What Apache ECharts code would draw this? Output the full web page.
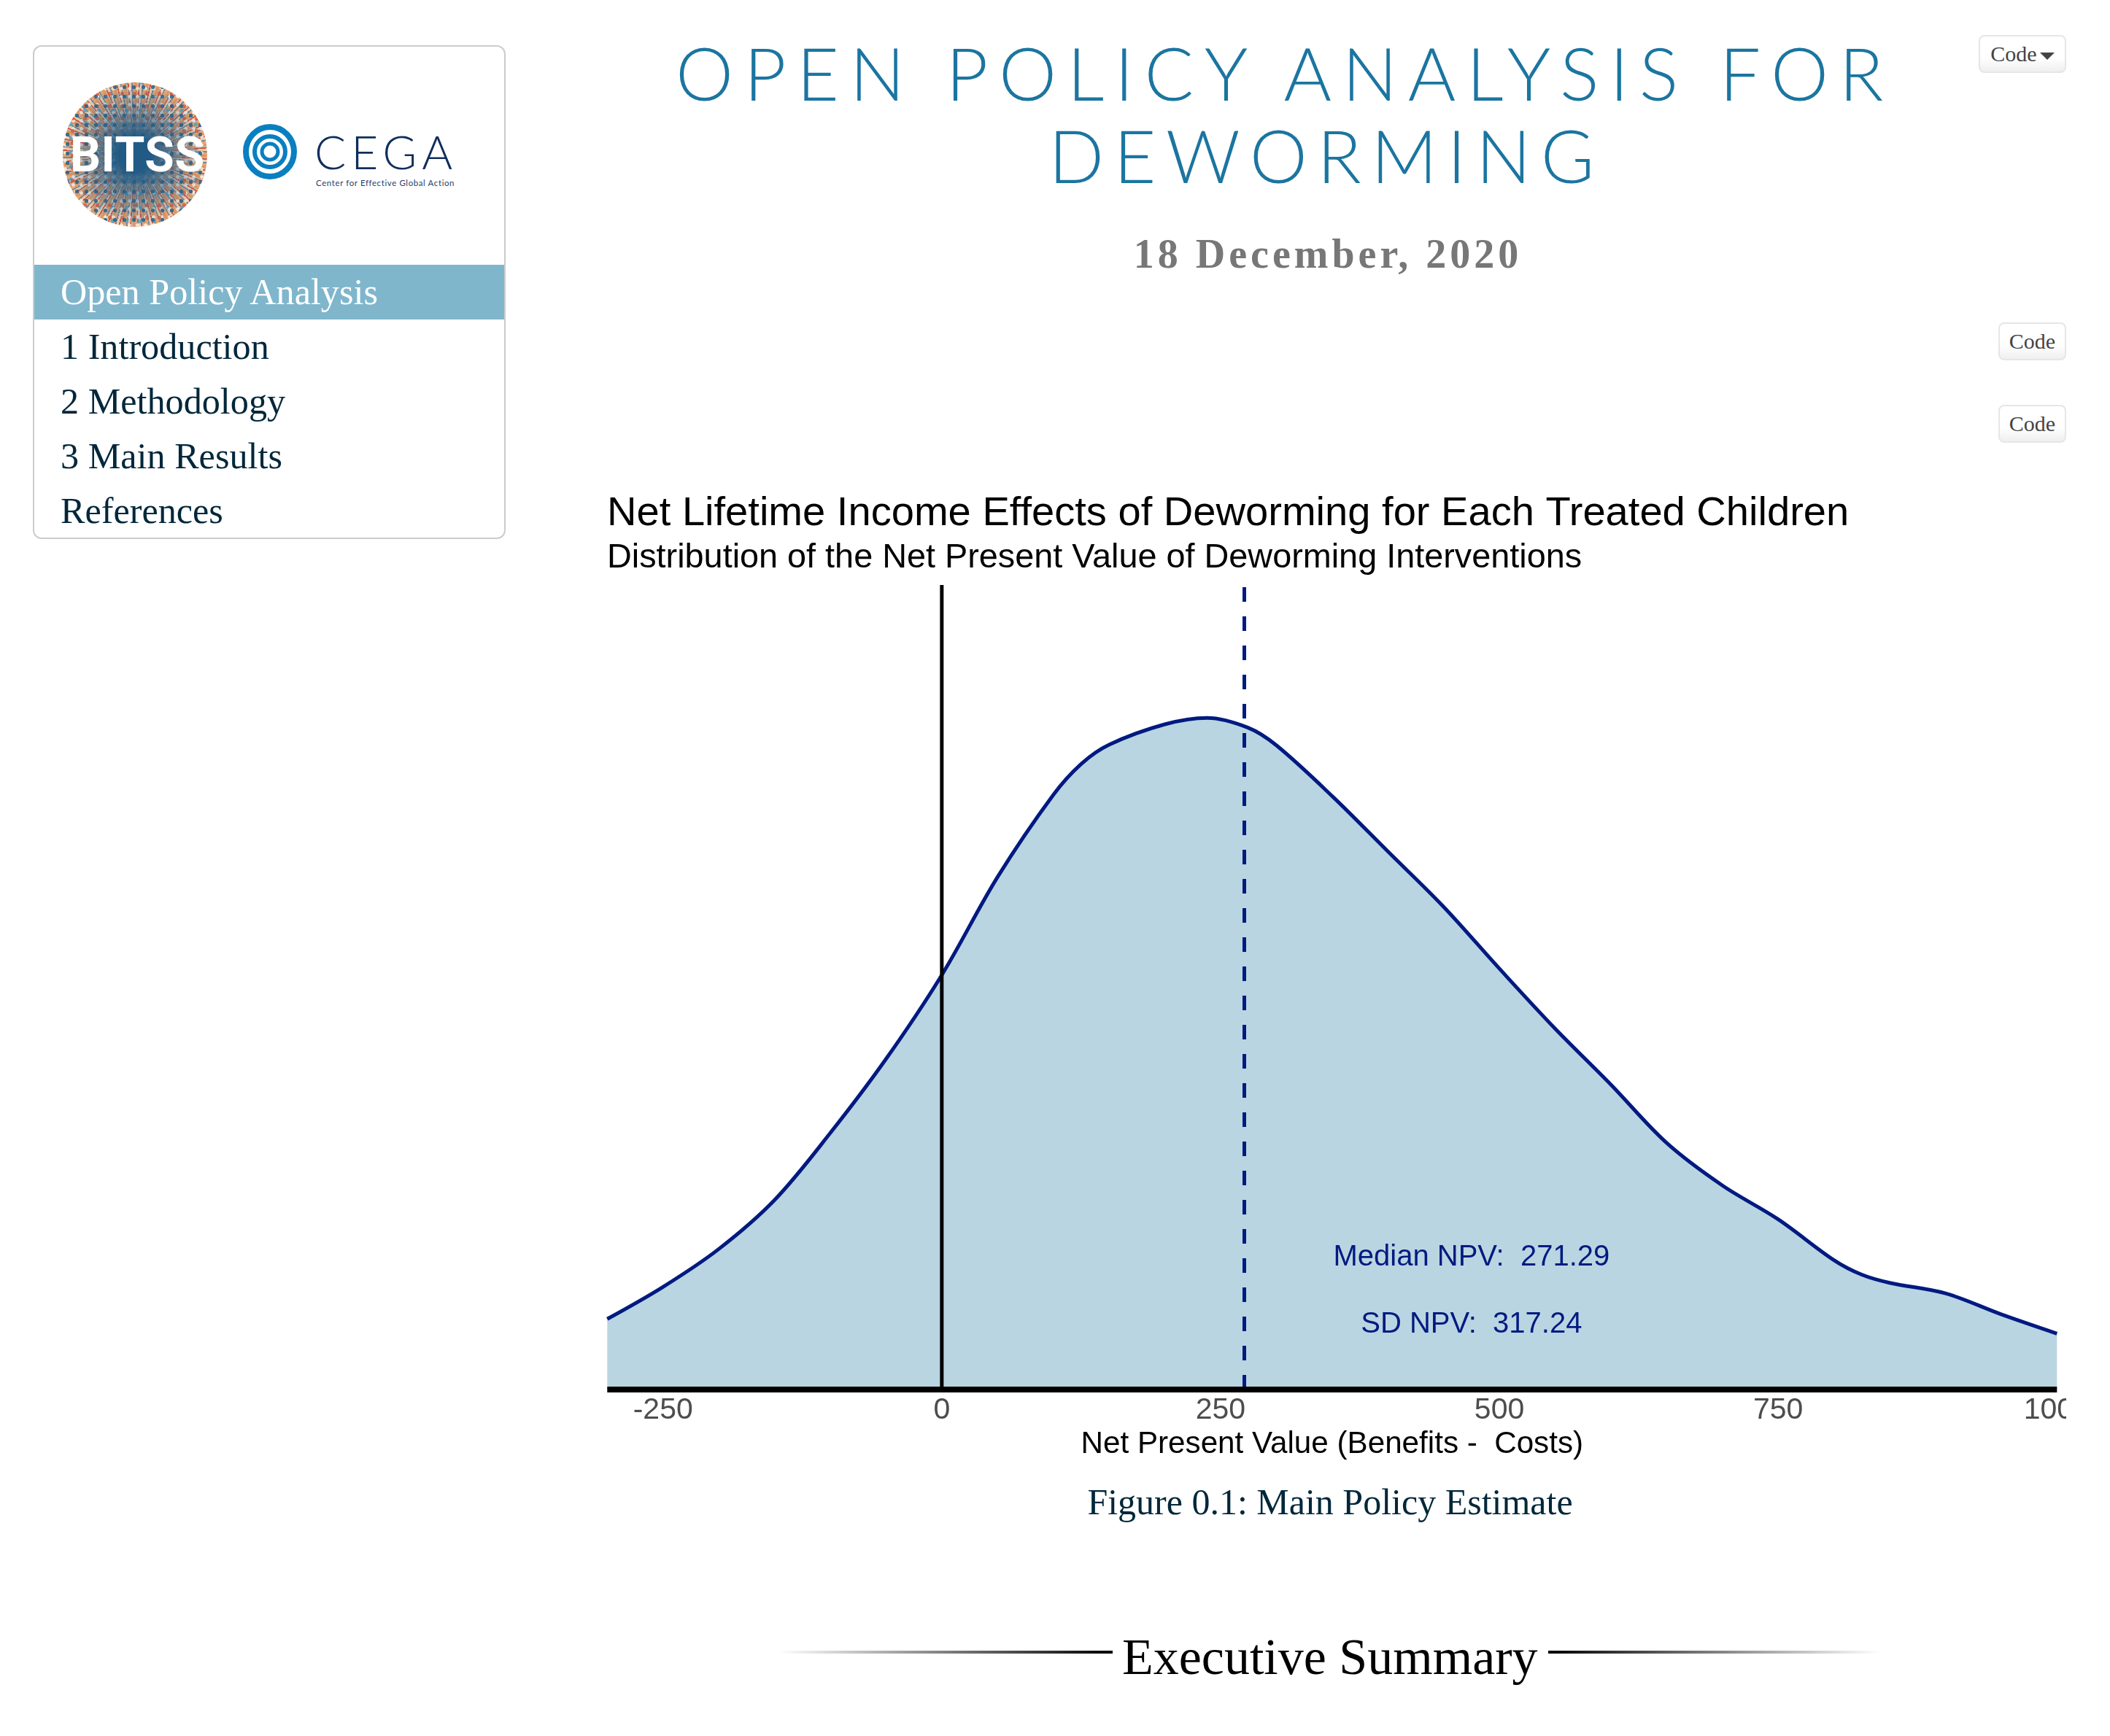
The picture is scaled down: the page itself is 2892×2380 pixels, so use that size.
<!DOCTYPE html>
<html>
<head>
<meta charset="utf-8">
<title>Open Policy Analysis for Deworming</title>
<script src="https://cdn.jsdelivr.net/npm/echarts@6/dist/echarts.min.js"></script>
<style>
html,body{margin:0;padding:0;background:#fff;width:2892px;height:2380px;overflow:hidden}
.a{position:absolute;white-space:pre}
#card{position:absolute;left:45px;top:62px;width:644px;height:673px;border:2px solid #ccc;border-radius:12px;box-sizing:content-box}
.nav{position:absolute;left:83px;font:50.2px/75px "Liberation Serif",serif;color:#01273a;white-space:pre}
#active{position:absolute;left:47px;top:363px;width:644px;height:75px;background:#7fb6cc}
.btn{position:absolute;box-sizing:border-box;height:52px;border:2px solid #e6e6e6;border-radius:8px;background:linear-gradient(#fff 60%,#efefef);font:30px/48px "Liberation Serif",serif;color:#444;text-align:center}
.tri{display:inline-block;width:0;height:0;border-left:10px solid transparent;border-right:10px solid transparent;border-top:10px solid #444;margin-left:4px;vertical-align:middle}
#logo{position:absolute;left:86px;top:113px;width:198px;height:198px;border-radius:50%;overflow:hidden;
background:
radial-gradient(circle,#215b85 0,#215b85 16%,rgba(33,91,133,.6) 36%,rgba(33,91,133,0) 70%),
radial-gradient(circle,rgba(38,96,135,.85) 0 2.5px,transparent 3px) 0 0/13px 13px,
radial-gradient(circle,rgba(222,90,60,.8) 0 2.5px,transparent 3px) 5px 7px/17px 17px,
radial-gradient(circle,rgba(250,240,230,.9) 0 2px,transparent 2.5px) 9px 3px/11px 11px,
radial-gradient(circle,rgba(90,165,200,.85) 0 2.5px,transparent 3px) 2px 10px/19px 19px,
repeating-conic-gradient(#e8975c 0 2deg,#c9b9a8 2deg 3deg,#d9553c 3deg 4deg,#f3cfae 4deg 6deg,#7a8a94 6deg 7deg,#e8a878 7deg 9deg)}
#chart{position:absolute;left:820px;top:650px;width:2012px;height:1370px}
</style>
</head>
<body>
<div id="card"></div>
<div id="logo"></div>
<div class="a" style="left:96px;top:175px;font:700 66px/76px Roboto,sans-serif;color:#fff;letter-spacing:.5px">BITSS</div>
<svg class="a" style="left:331px;top:169px" width="78" height="78" viewBox="0 0 78 78">
<g fill="none" stroke="#0a7fc0">
<ellipse cx="39" cy="39" rx="33" ry="34" stroke-width="8"/>
<ellipse cx="39" cy="39" rx="21" ry="21" stroke-width="6"/>
<ellipse cx="39" cy="39" rx="11" ry="11" stroke-width="5"/>
</g>
</svg>
<div class="a" style="left:431px;top:170px;font:300 64px/76px Lato,sans-serif;color:#0f2e5c;letter-spacing:7px">CEGA</div>
<div class="a" style="left:433px;top:242px;font:11.5px/18px Lato,sans-serif;color:#1e3f6b;letter-spacing:.6px">Center for Effective Global Action</div>
<div id="active"></div>
<div class="nav" style="top:363px;color:#fff">Open Policy Analysis</div>
<div class="nav" style="top:438px">1 Introduction</div>
<div class="nav" style="top:513px">2 Methodology</div>
<div class="nav" style="top:588px">3 Main Results</div>
<div class="nav" style="top:663px">References</div>

<div class="a" style="left:761px;width:2000px;text-align:center;top:42px;font:300 100px/115px Lato,sans-serif;color:#1b75a0;letter-spacing:14.6px">OPEN POLICY ANALYSIS FOR</div>
<div class="a" style="left:818px;width:2000px;text-align:center;top:155px;font:300 100px/115px Lato,sans-serif;color:#1b75a0;letter-spacing:13.4px">DEWORMING</div>
<div class="a" style="left:820px;width:2000px;text-align:center;top:315px;font:700 56px/66px 'Liberation Serif',serif;color:#777;letter-spacing:5px">18 December, 2020</div>

<div class="btn" style="left:2712px;top:48px;width:120px">Code<span class="tri"></span></div>
<div class="btn" style="left:2739px;top:442px;width:93px">Code</div>
<div class="btn" style="left:2739px;top:555px;width:93px">Code</div>

<div id="chart"></div>

<div class="a" style="left:763px;width:2120px;text-align:center;top:2026px;font:50px/66px 'Liberation Serif',serif;color:#01273a">Figure 0.1: Main Policy Estimate</div>
<div class="a" style="left:1067px;top:2263px;width:458px;height:4px;background:linear-gradient(to right,rgba(0,0,0,0),#000)"></div>
<div class="a" style="left:2122px;top:2263px;width:454px;height:4px;background:linear-gradient(to left,rgba(0,0,0,0),#000)"></div>
<div class="a" style="left:1538px;top:2230px;width:568px;text-align:center;font:70px/84px 'Liberation Serif',serif;color:#000">Executive Summary</div>

<script>
var npvGrid = [-300,-250,-200,-150,-100,-50,0,50,100,125,150,200,238,275,300,350,400,450,500,550,600,650,700,750,800,825,850,900,950,1000];
var densityE3 = [0.121,0.176,0.241,0.325,0.440,0.567,0.711,0.879,1.020,1.073,1.106,1.141,1.152,1.135,1.105,1.018,0.923,0.828,0.722,0.619,0.523,0.423,0.350,0.292,0.222,0.197,0.183,0.165,0.129,0.096];
var xTicks = [-250,0,250,500,750,1000];
var medianNpv = 271.29;
var sdNpv = 317.24;
var zeroNpv = 0;
var xMin = -300, xMax = 1000, yMax = 1.38;
var titleText = 'Net Lifetime Income Effects of Deworming for Each Treated Children';
var subtitleText = 'Distribution of the Net Present Value of Deworming Interventions';
var xName = 'Net Present Value (Benefits -  Costs)';
var noteMedian = 'Median NPV:  ' + medianNpv.toFixed(2);
var noteSd = 'SD NPV:  ' + sdNpv.toFixed(2);
var noteX = 475, noteYMedian = 0.2265, noteYSd = 0.1115;
var navy = '#001a80', fillBlue = '#bad5e2', sans = '"Liberation Sans",Arial,sans-serif';

var curve = npvGrid.map(function(x,i){return [x,densityE3[i]];});
var chart = echarts.init(document.getElementById('chart'),null,{renderer:'canvas'});
chart.setOption({
  animation:false,
  backgroundColor:'#fff',
  title:[
    {text:titleText,left:12,top:27,padding:0,textStyle:{fontFamily:sans,fontWeight:'normal',fontSize:56.1,color:'#000'}},
    {text:subtitleText,left:12,top:92,padding:0,textStyle:{fontFamily:sans,fontWeight:'normal',fontSize:46.8,color:'#000'}}
  ],
  grid:{left:12.3,right:12.7,top:152,bottom:115,containLabel:false,outerBoundsMode:'none'},
  xAxis:{type:'value',min:xMin,max:xMax,interval:250,z:10,
    axisLine:{show:true,onZero:false,lineStyle:{color:'#000',width:8,cap:'butt'}},
    axisTick:{show:false},splitLine:{show:false},
    axisLabel:{color:'#4d4d4d',fontFamily:sans,fontSize:41,margin:8,hideOverlap:false,showMinLabel:true,showMaxLabel:true,
      customValues:xTicks,formatter:function(v){return String(v);}},
    name:xName,nameLocation:'middle',nameGap:53,
    nameTextStyle:{fontFamily:sans,fontSize:42.2,color:'#000'}
  },
  yAxis:{type:'value',min:0,max:yMax,show:false},
  series:[
    {type:'line',data:curve,smooth:0.34,showSymbol:false,z:2,
      lineStyle:{color:navy,width:5},areaStyle:{color:fillBlue,opacity:1}},
    {type:'line',data:[[zeroNpv,0],[zeroNpv,yMax]],showSymbol:false,z:3,lineStyle:{color:'#000',width:5}},
    {type:'line',data:[[medianNpv,0],[medianNpv,yMax]],showSymbol:false,z:3,lineStyle:{color:navy,width:5,type:[20,20]}},
    {type:'scatter',symbolSize:0,z:4,data:[
      {value:[noteX,noteYMedian],label:{formatter:noteMedian}},
      {value:[noteX,noteYSd],label:{formatter:noteSd}}],
      itemStyle:{color:navy,opacity:1},
      label:{show:true,position:'inside',fontFamily:sans,fontSize:40,color:navy,opacity:1,textBorderWidth:0}}
  ]
});
</script>
</body>
</html>
